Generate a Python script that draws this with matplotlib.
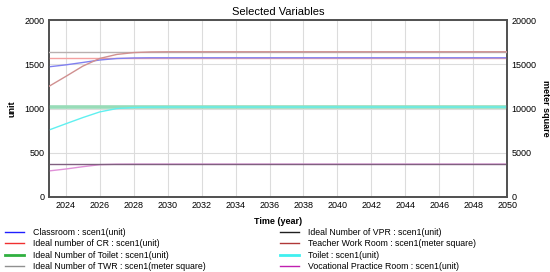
import numpy as np
import matplotlib
matplotlib.use( "Agg" )
import matplotlib.pyplot as plt
from matplotlib.lines import Line2D

plt.rcParams["font.family"] = ["Liberation Sans", "DejaVu Sans"]

# ========================================================= #
# ===  data                                             === #
# ========================================================= #
years        = [ 2023, 2024, 2025, 2026, 2027, 2028, 2029, 2030, 2031, 2050 ]

classroom    = [ 1472, 1494, 1521, 1549, 1566, 1572, 1574, 1574, 1574, 1574 ]
ideal_cr     = [ 1574, 1574, 1574, 1574, 1574, 1574, 1574, 1574, 1574, 1574 ]
ideal_toilet = [ 1017, 1017, 1017, 1017, 1017, 1017, 1017, 1017, 1017, 1017 ]
ideal_twr    = [ 16420, 16420, 16420, 16420, 16420, 16420, 16420, 16420, 16420, 16420 ]
ideal_vpr    = [  371,  371,  371,  371,  371,  371,  371,  371,  371,  371 ]
teacher_wr   = [ 12510, 13640, 14800, 15670, 16120, 16330, 16400, 16420, 16420, 16420 ]
toilet       = [  757,  828,  898,  962, 1000, 1012, 1016, 1017, 1017, 1017 ]
vpr          = [  294,  316,  342,  365,  370,  371,  371,  371,  371,  371 ]

labels = [ "Classroom : scen1(unit)",
           "Ideal number of CR : scen1(unit)",
           "Ideal Number of Toilet : scen1(unit)",
           "Ideal Number of TWR : scen1(meter square)",
           "Ideal Number of VPR : scen1(unit)",
           "Teacher Work Room : scen1(meter square)",
           "Toilet : scen1(unit)",
           "Vocational Practice Room : scen1(unit)" ]

# ========================================================= #
# ===  figure                                           === #
# ========================================================= #
fig = plt.figure( figsize=(5.5, 2.72), dpi=100 )
ax1 = fig.add_axes( [ 0.089, 0.276, 0.833, 0.650 ] )
ax2 = ax1.twinx()

# --- lines in plot (faded) --- #
ax1.plot( years, ideal_cr,     color="#f4a0a0", lw=1.0, zorder=3 )
ax1.plot( years, classroom,    color="#8080f0", lw=1.0, zorder=4 )
ax1.plot( years, ideal_toilet, color="#98dcb8", lw=2.6, zorder=3 )
ax1.plot( years, toilet,       color="#60f0f0", lw=1.0, zorder=4 )
ax1.plot( years, vpr,          color="#e090d8", lw=1.0, zorder=3 )
ax1.plot( years, ideal_vpr,    color="#806080", lw=1.0, zorder=4 )
ax2.plot( years, ideal_twr,    color="#b8b0b0", lw=1.0, zorder=3 )
ax2.plot( years, teacher_wr,   color="#d09090", lw=1.0, zorder=4 )

# --- axes --- #
ax1.set_xlim( 2023, 2050 )
ax1.set_ylim( 0, 2000 )
ax2.set_ylim( 0, 20000 )
ax1.set_xticks( np.arange( 2024, 2051, 2 ) )
ax1.set_yticks( [ 0, 500, 1000, 1500, 2000 ] )
ax2.set_yticks( [ 0, 5000, 10000, 15000, 20000 ] )
ax1.grid( True, color="#dcdcdc", lw=0.8 )
ax1.set_axisbelow( True )

for ax in ( ax1, ax2 ):
    ax.tick_params( length=0, labelsize=6.5, pad=3 )
    for sp in ax.spines.values():
        sp.set_color( "#505050" )
        sp.set_linewidth( 1.2 )

ax1.set_title( "Selected Variables", fontsize=8, pad=4 )
ax1.set_xlabel( "Time (year)", fontsize=6.5, fontweight="bold", labelpad=5 )
ax1.set_ylabel( "unit", fontsize=6.5, fontweight="bold", labelpad=6 )
ax2.set_ylabel( "meter square", fontsize=6.5, fontweight="bold", rotation=270, labelpad=10 )

# --- legend (two columns) --- #
handles = [ Line2D( [], [], color="#2020ff", lw=1.0 ),
            Line2D( [], [], color="#f03030", lw=1.0 ),
            Line2D( [], [], color="#30b040", lw=2.0 ),
            Line2D( [], [], color="#909090", lw=1.0 ),
            Line2D( [], [], color="#202020", lw=1.0 ),
            Line2D( [], [], color="#b03838", lw=1.0 ),
            Line2D( [], [], color="#40f0f0", lw=2.0 ),
            Line2D( [], [], color="#c020b0", lw=1.0 ) ]
leg_kw = dict( loc="upper left", frameon=False, fontsize=6.3, borderpad=0,
               borderaxespad=0, handlelength=2.2, handletextpad=0.95,
               labelspacing=0.28 )
fig.legend( handles[:4], labels[:4], bbox_to_anchor=( 0.009, 0.163 ), **leg_kw )
fig.legend( handles[4:], labels[4:], bbox_to_anchor=( 0.509, 0.163 ), **leg_kw )

fig.savefig( "out.png", dpi=100 )
